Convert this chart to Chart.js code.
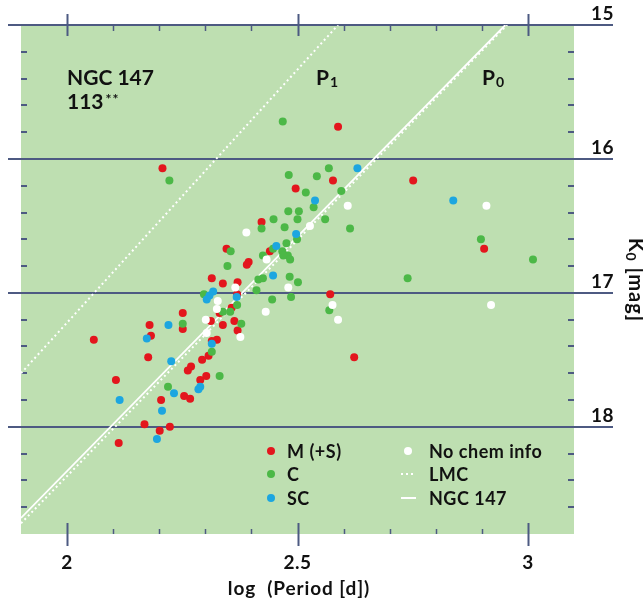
<!DOCTYPE html>
<html>
<head>
<meta charset="utf-8">
<script src="https://cdn.jsdelivr.net/npm/chart.js@4"></script>
<style>
  html, body { margin: 0; padding: 0; background: #fff; }
  #wrap { width: 643px; height: 604px; }
</style>
</head>
<body>
<div id="wrap"><canvas id="plc" width="643" height="604"></canvas></div>
<script>
/* ── Data: log(Period [d]) and K0 [mag] per star type ─────────────────── */
const mLogP = [2.588, 2.207, 2.751, 2.577, 2.496, 2.422, 2.440, 2.346, 2.394, 2.390,
               2.314, 2.338, 2.370, 2.369, 2.571, 2.357, 2.331, 2.251, 2.312, 2.338,
               2.363, 2.179, 2.251, 2.370, 2.058, 2.182, 2.314, 2.325, 2.307, 2.293,
               2.176, 2.269, 2.262, 2.302, 2.106, 2.289, 2.905, 2.623, 2.254, 2.267,
               2.204, 2.168, 2.201, 2.223, 2.112];
const mK    = [15.76, 16.07, 16.16, 16.16, 16.22, 16.47, 16.69, 16.67, 16.77, 16.79,
               16.89, 16.93, 16.92, 17.01, 17.01, 17.11, 17.15, 17.15, 17.21, 17.24,
               17.21, 17.24, 17.27, 17.28, 17.35, 17.32, 17.36, 17.35, 17.47, 17.50,
               17.48, 17.55, 17.58, 17.62, 17.65, 17.65, 16.67, 17.48, 17.77, 17.79,
               17.80, 17.98, 18.03, 18.00, 18.12];

const cLogP = [2.468, 2.222, 2.481, 2.542, 2.568, 2.518, 2.595, 2.535, 2.448, 2.480,
               2.503, 2.500, 2.560, 2.422, 2.472, 2.499, 2.476, 2.447, 2.467, 2.479,
               2.469, 2.484, 2.355, 2.348, 2.483, 2.415, 2.425, 2.501, 2.411, 2.297,
               2.486, 2.445, 2.369, 2.354, 2.338, 2.378, 2.251, 2.314, 2.331, 2.219,
               2.614, 2.898, 3.011, 2.739, 2.569, 2.425];
const cK    = [15.72, 16.16, 16.12, 16.13, 16.07, 16.25, 16.24, 16.36, 16.45, 16.39,
               16.39, 16.45, 16.45, 16.52, 16.51, 16.60, 16.63, 16.67, 16.69, 16.72,
               16.72, 16.75, 16.69, 16.80, 16.88, 16.90, 16.89, 16.92, 16.98, 17.01,
               17.03, 17.05, 17.09, 17.14, 17.14, 17.23, 17.23, 17.44, 17.62, 17.70,
               16.52, 16.60, 16.75, 16.89, 17.13, 16.72];

const scLogP = [2.630, 2.538, 2.838, 2.497, 2.454, 2.447, 2.317, 2.309, 2.303, 2.368,
                2.220, 2.173, 2.314, 2.226, 2.289, 2.285, 2.114, 2.232, 2.206, 2.195];
const scK    = [16.07, 16.31, 16.31, 16.56, 16.65, 16.87, 16.99, 17.02, 17.05, 17.03,
                17.24, 17.34, 17.38, 17.51, 17.70, 17.72, 17.80, 17.75, 17.88, 18.09];

const noLogP = [2.527, 2.389, 2.433, 2.365, 2.480, 2.327, 2.325, 2.431, 2.301, 2.303,
                2.376, 2.910, 2.609, 2.576, 2.588, 2.920];
const noK    = [16.50, 16.55, 16.75, 16.96, 16.96, 17.06, 17.12, 17.14, 17.20, 17.30,
                17.33, 16.35, 16.35, 17.09, 17.20, 17.09];

// period-luminosity relations (end points)
const lmcP1LogP = [1.9, 2.588];  const lmcP1K = [17.60, 15.0];
const lmcP0LogP = [1.9, 2.955];  const lmcP0K = [18.72, 15.0];
const ngcLogP   = [1.9, 2.951];  const ngcK   = [18.68, 15.0];

// axis ticks
const xMajor = [2, 2.5, 3];
const xMajorLabels = ['2', '2.5', '3'];
const xMinor = [2.1, 2.2, 2.3, 2.4, 2.6, 2.7, 2.8, 2.9];
const yMajor = [15, 16, 17, 18];
const yMajorLabels = ['15', '16', '17', '18'];
const yMinor = [15.2, 15.4, 15.6, 15.8, 16.2, 16.4, 16.6, 16.8,
                17.2, 17.4, 17.6, 17.8, 18.2, 18.4, 18.6];

/* ── Colours / fonts ───────────────────────────────────────────────────── */
const RED = '#e3161d', GREEN = '#4cb847', BLUE = '#1ca6e0', WHITE = '#ffffff';
const BG = '#bedfb1', AXIS = '#4d5a82', INK = '#111111';
const FONT = '"Lato", "DejaVu Sans", sans-serif';

const pts = (xs, ys) => xs.map((x, i) => ({ x: x, y: ys[i] }));

function spaced(ctx, px) {
  if ('letterSpacing' in ctx) ctx.letterSpacing = px + 'px';
}

/* ── Decorations: background, grid lines, ticks, labels, legend ────────── */
const decor = {
  id: 'decor',
  beforeDraw(chart) {
    const { ctx, chartArea: a } = chart;
    ctx.save();
    ctx.fillStyle = '#fff';
    ctx.fillRect(0, 0, chart.width, chart.height);
    ctx.fillStyle = BG;
    ctx.fillRect(a.left, a.top, a.right - a.left, a.bottom - a.top);
    ctx.restore();
  },
  beforeDatasetsDraw(chart) {
    const { ctx, chartArea: a, scales: { x, y } } = chart;
    ctx.save();
    ctx.strokeStyle = AXIS;
    ctx.lineCap = 'butt';

    // horizontal magnitude lines
    ctx.lineWidth = 2;
    yMajor.forEach(v => {
      const py = Math.round(y.getPixelForValue(v));
      ctx.beginPath(); ctx.moveTo(8, py); ctx.lineTo(613, py); ctx.stroke();
    });

    // x ticks top and bottom
    xMajor.forEach(v => {
      const px = Math.round(x.getPixelForValue(v)) + 0.5;
      ctx.lineWidth = 2;
      ctx.beginPath(); ctx.moveTo(px, a.top - 11); ctx.lineTo(px, a.top + 11); ctx.stroke();
      ctx.beginPath(); ctx.moveTo(px, a.bottom - 11); ctx.lineTo(px, a.bottom + 12); ctx.stroke();
    });
    xMinor.forEach(v => {
      const px = Math.round(x.getPixelForValue(v)) + 0.5;
      ctx.lineWidth = 1.5;
      ctx.beginPath(); ctx.moveTo(px, a.top); ctx.lineTo(px, a.top + 6); ctx.stroke();
      ctx.beginPath(); ctx.moveTo(px, a.bottom - 5); ctx.lineTo(px, a.bottom); ctx.stroke();
    });

    // y minor ticks inside left and right edges
    ctx.lineWidth = 2;
    yMinor.forEach(v => {
      const py = Math.round(y.getPixelForValue(v));
      ctx.beginPath(); ctx.moveTo(a.left, py); ctx.lineTo(a.left + 6, py); ctx.stroke();
      ctx.beginPath(); ctx.moveTo(a.right - 6, py); ctx.lineTo(a.right, py); ctx.stroke();
    });
    ctx.restore();
  },
  afterDatasetsDraw(chart) {
    const { ctx, scales: { x, y } } = chart;
    ctx.save();
    ctx.fillStyle = INK;

    // tick labels
    ctx.font = 'bold 19px ' + FONT;
    spaced(ctx, 0.5);
    ctx.textAlign = 'center';
    ctx.textBaseline = 'alphabetic';
    xMajor.forEach((v, i) => ctx.fillText(xMajorLabels[i], x.getPixelForValue(v), 569));
    ctx.textAlign = 'right';
    yMajor.forEach((v, i) => ctx.fillText(yMajorLabels[i], 614, y.getPixelForValue(v) - 5));

    // x title
    ctx.textAlign = 'center';
    ctx.font = 'bold 19px ' + FONT;
    spaced(ctx, 0.9);
    ctx.fillText('log  (Period [d])', 299, 595);

    // y title, rotated
    ctx.save();
    ctx.translate(629, 280);
    ctx.rotate(Math.PI / 2);
    ctx.textAlign = 'left';
    spaced(ctx, 1);
    ctx.font = 'bold 20px ' + FONT;
    const kw = ctx.measureText('K').width;
    const rest = ' [mag]';
    const rw = ctx.measureText(rest).width;
    ctx.font = 'bold 14px ' + FONT;
    const sw = ctx.measureText('0').width;
    const x0 = -(kw + sw + rw) / 2;
    ctx.font = 'bold 20px ' + FONT;
    ctx.fillText('K', x0, 0);
    ctx.fillText(rest, x0 + kw + sw, 0);
    ctx.font = 'bold 14px ' + FONT;
    ctx.fillText('0', x0 + kw, 3);
    ctx.restore();

    // panel annotations
    spaced(ctx, 0);
    ctx.textAlign = 'left';
    ctx.font = 'bold 21px ' + FONT;
    ctx.fillText('NGC 147', 67, 85);
    ctx.fillText('113', 67, 109);
    const w113 = ctx.measureText('113').width;
    ctx.font = 'bold 14px ' + FONT;
    spaced(ctx, 1);
    ctx.fillText('**', 67 + w113 + 2, 104);
    spaced(ctx, 0);

    ctx.font = 'bold 21px ' + FONT;
    ctx.fillText('P', 316, 85);
    ctx.fillText('P', 482, 85);
    const pw = ctx.measureText('P').width;
    ctx.font = 'bold 14px ' + FONT;
    ctx.fillText('1', 316 + pw + 1, 87);
    ctx.fillText('0', 482 + pw + 1, 87);

    // legend
    const ds = chart.data.datasets;
    const rowsY = [451, 474, 498];
    ctx.font = 'bold 18px ' + FONT;
    spaced(ctx, 0.5);
    [0, 1, 2].forEach((di, r) => {
      ctx.fillStyle = ds[di].backgroundColor;
      ctx.beginPath(); ctx.arc(271, rowsY[r], 4, 0, Math.PI * 2); ctx.fill();
      ctx.fillStyle = INK;
      ctx.fillText(ds[di].label, 287, rowsY[r] + 6.5);
    });
    ctx.fillStyle = WHITE;
    ctx.beginPath(); ctx.arc(408, rowsY[0], 4, 0, Math.PI * 2); ctx.fill();
    ctx.strokeStyle = WHITE;
    ctx.lineWidth = 2;
    ctx.setLineDash([2, 3]);
    ctx.beginPath(); ctx.moveTo(401, rowsY[1]); ctx.lineTo(415, rowsY[1]); ctx.stroke();
    ctx.setLineDash([]);
    ctx.beginPath(); ctx.moveTo(401, rowsY[2]); ctx.lineTo(416, rowsY[2]); ctx.stroke();
    ctx.fillStyle = INK;
    ctx.fillText(ds[3].label, 429, rowsY[0] + 6.5);
    ctx.fillText('LMC', 429, rowsY[1] + 6.5);
    ctx.fillText(ds[6].label, 429, rowsY[2] + 6.5);
    ctx.restore();
  }
};

/* ── Chart ─────────────────────────────────────────────────────────────── */
const dot = (label, xs, ys, color, order) => ({
  label: label, data: pts(xs, ys), order: order,
  backgroundColor: color, borderWidth: 0,
  pointRadius: 4, pointHoverRadius: 4,
});
const rel = (label, xs, ys, dash) => ({
  label: label, data: pts(xs, ys), order: 5,
  showLine: true, pointRadius: 0, borderColor: WHITE,
  borderWidth: dash ? 2 : 1.8, borderDash: dash || [], fill: false,
});

new Chart(document.getElementById('plc').getContext('2d'), {
  type: 'scatter',
  data: {
    datasets: [
      dot('M (+S)', mLogP, mK, RED, 4),
      dot('C', cLogP, cK, GREEN, 3),
      dot('SC', scLogP, scK, BLUE, 1),
      dot('No chem info', noLogP, noK, WHITE, 2),
      rel('LMC P1', lmcP1LogP, lmcP1K, [2, 3]),
      rel('LMC P0', lmcP0LogP, lmcP0K, [2, 3]),
      rel('NGC 147', ngcLogP, ngcK, null),
    ],
  },
  options: {
    responsive: false,
    animation: false,
    events: [],
    layout: { padding: { left: 21, top: 25, right: 69, bottom: 70 } },
    plugins: { legend: { display: false }, tooltip: { enabled: false } },
    scales: {
      x: { type: 'linear', min: 1.9, max: 3.1, display: false },
      y: { type: 'linear', min: 15, max: 18.8, reverse: true, display: false },
    },
  },
  plugins: [decor],
});
</script>
</body>
</html>
